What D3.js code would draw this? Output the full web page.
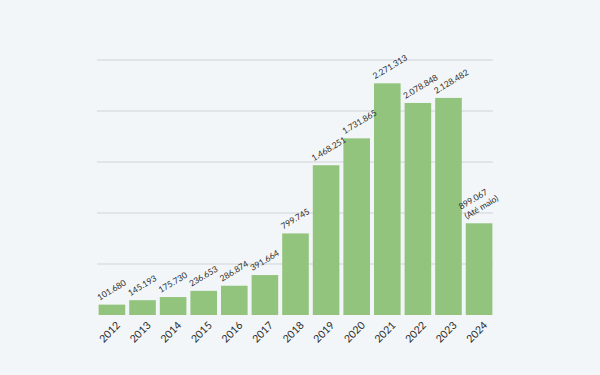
<!DOCTYPE html>
<html>
<head>
<meta charset="utf-8">
<script src="https://cdn.jsdelivr.net/npm/d3@7"></script>
<style>
  html, body { margin: 0; padding: 0; background: #f2f6f9; }
  #chart { width: 600px; height: 375px; }
  text { font-family: "Lato", "DejaVu Sans", sans-serif; fill: #2b2b2b; }
</style>
</head>
<body>
<div id="chart"></div>
<script>
const years = ["2012", "2013", "2014", "2015", "2016", "2017", "2018", "2019", "2020", "2021", "2022", "2023", "2024"];
const values = [101680, 145193, 175730, 236653, 286874, 391664, 799745, 1468251, 1731865, 2271313, 2078848, 2128482, 899067];
const valueLabels = ["101.680", "145.193", "175.730", "236.653", "286.874", "391.664", "799.745", "1.468.251", "1.731.865", "2.271.313", "2.078.848", "2.128.482", "899.067"];
const labelNotes = ["", "", "", "", "", "", "", "", "", "", "", "", "(Até maio)"];
const gridTicks = [500000, 1000000, 1500000, 2000000, 2500000];

const data = years.map((y, i) => ({ year: y, value: values[i], label: valueLabels[i], note: labelNotes[i] }));

const margin = { top: 60, right: 107, bottom: 60, left: 98 };
const width = 600 - margin.left - margin.right;
const height = 375 - margin.top - margin.bottom;

const svg = d3.select("#chart")
    .append("svg")
    .attr("width", 600)
    .attr("height", 375)
    .append("g")
    .attr("transform", `translate(${margin.left},${margin.top})`);

const x = d3.scaleBand()
    .domain(years)
    .range([0, width])
    .paddingInner(0.13)
    .paddingOuter(0.02);

const y = d3.scaleLinear()
    .domain([0, 2500000])
    .range([height, 0]);

// gridlines
svg.append("g")
    .selectAll("line")
    .data(gridTicks)
    .join("line")
    .attr("x1", -1)
    .attr("x2", width)
    .attr("y1", d => y(d))
    .attr("y2", d => y(d))
    .attr("stroke", "#d0d3d6")
    .attr("stroke-width", 1);

// bars
svg.append("g")
    .selectAll("rect")
    .data(data)
    .join("rect")
    .attr("x", d => x(d.year))
    .attr("y", d => y(d.value))
    .attr("width", x.bandwidth())
    .attr("height", d => height - y(d.value))
    .attr("fill", "#93c47d");

// value labels, start anchored at bar's left corner
const lbl = svg.append("g")
    .selectAll("text")
    .data(data)
    .join("text")
    .attr("text-anchor", "start")
    .attr("font-size", 8.5)
    .attr("transform", d => `translate(${x(d.year) + 1},${y(d.value) - 4}) rotate(-31)`);

lbl.append("tspan")
    .attr("x", 0)
    .attr("dy", d => d.note ? -11 : 0)
    .text(d => d.label);

lbl.filter(d => d.note)
    .append("tspan")
    .attr("x", 0)
    .attr("dy", 11)
    .text(d => d.note);

// x axis
const xAxis = svg.append("g")
    .attr("transform", `translate(0,${height})`)
    .call(d3.axisBottom(x).tickSize(0).tickPadding(0));

xAxis.select(".domain").remove();
xAxis.selectAll("text")
    .attr("font-size", 10.5)
    .attr("font-family", "Lato, 'DejaVu Sans', sans-serif")
    .attr("fill", "#222")
    .attr("text-anchor", "end")
    .attr("dy", 0)
    .attr("transform", "translate(9,11) rotate(-45)");
</script>
</body>
</html>
